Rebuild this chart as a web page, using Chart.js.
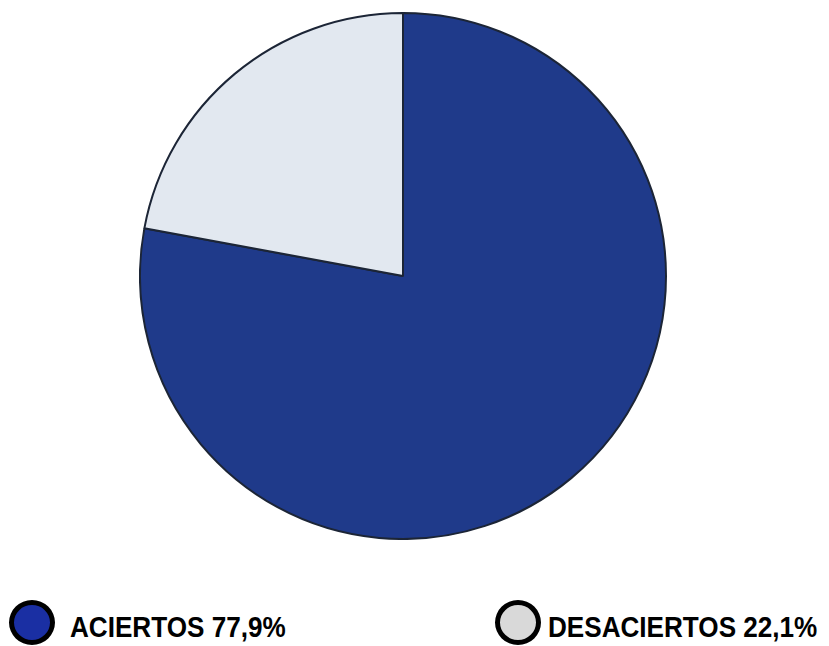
<!DOCTYPE html>
<html>
<head>
<meta charset="utf-8">
<script src="https://cdn.jsdelivr.net/npm/chart.js@4"></script>
<style>
  html, body { margin: 0; padding: 0; background: #ffffff; }
  body { width: 829px; height: 646px; position: relative; overflow: hidden; font-family: "Liberation Sans", Arial, sans-serif; }
  .pie-wrap { position: absolute; left: 139px; top: 12px; width: 528px; height: 528px; }
  .legend-item { position: absolute; top: 600px; height: 45px; }
  .legend-item .dot { position: absolute; left: 0; top: 0; width: 36px; height: 35px; border: 5px solid #000; border-radius: 50%; }
  .legend-item .txt { position: absolute; left: 61px; top: 11px; font-size: 29px; line-height: 32px; font-weight: bold; color: #000; white-space: nowrap; transform: scaleX(0.9); transform-origin: left center; }
  .legend-item:nth-child(1) { left: 9px; }
  .legend-item:nth-child(2) { left: 495px; }
  .legend-item:nth-child(2) .txt { left: 53px; }
</style>
</head>
<body>
<div class="pie-wrap"><canvas id="pie"></canvas></div>
<div id="legend"></div>
<script>
// datos del gráfico
const labels = ['ACIERTOS', 'DESACIERTOS'];
const values = [77.9, 22.1];
const sliceColors = ['#1f3a8a', '#e2e8f0'];
const legendColors = ['#1a2fa3', '#d9d9d9'];

const legend = document.getElementById('legend');
legend.innerHTML = labels.map((l, i) =>
  `<div class="legend-item"><div class="dot" style="background:${legendColors[i]}"></div>` +
  `<div class="txt">${l} ${values[i].toFixed(1).replace('.', ',')}%</div></div>`
).join('');

new Chart(document.getElementById('pie').getContext('2d'), {
  type: 'pie',
  data: {
    labels: labels,
    datasets: [{
      data: values,
      backgroundColor: sliceColors,
      borderColor: '#1c2536',
      borderWidth: 2
    }]
  },
  options: {
    responsive: true,
    maintainAspectRatio: false,
    animation: false,
    layout: { padding: 0 },
    plugins: {
      legend: { display: false },
      tooltip: { enabled: false }
    }
  }
});
</script>
</body>
</html>
